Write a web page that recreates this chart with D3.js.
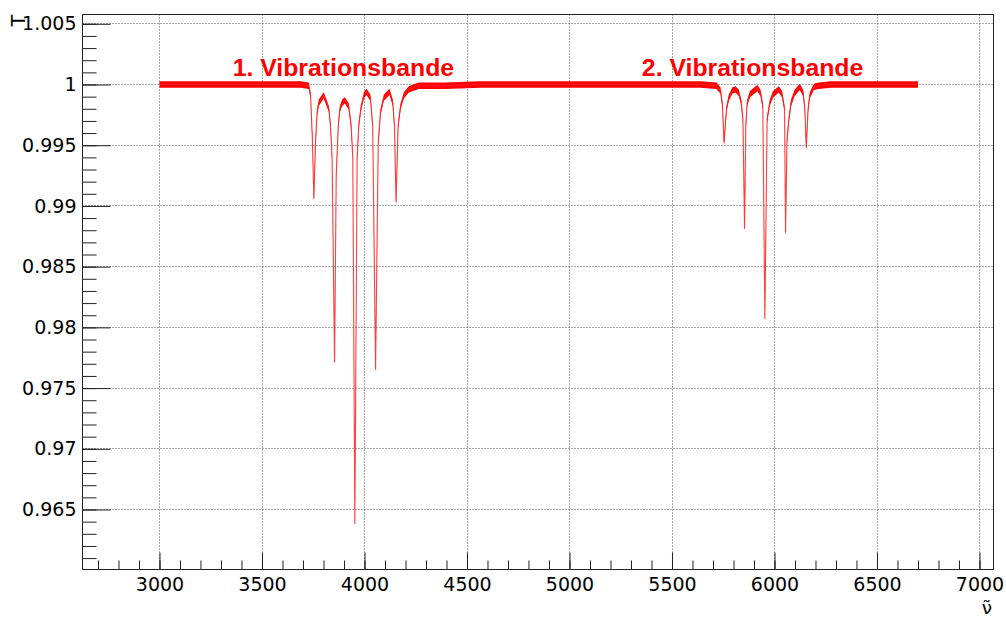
<!DOCTYPE html>
<html>
<head>
<meta charset="utf-8">
<script src="https://cdn.jsdelivr.net/npm/d3@7"></script>
<style>
  body { margin: 0; background: #fff; }
</style>
</head>
<body>
<div id="chart"></div>
<script>
// ------------------------------------------------------
// Spectrum (wavenumber vs transmission)
const wavenumber = [3000, 3300, 3600, 3688, 3728, 3737, 3746, 3753, 3761, 3769, 3777, 3801,
	3826, 3834, 3842, 3854, 3862, 3872, 3880, 3891, 3904, 3923, 3935, 3943, 3953, 3964,
	3972, 3982, 3997, 4010, 4029, 4040, 4054, 4067, 4078, 4094, 4122, 4138, 4146, 4154,
	4164, 4176, 4192, 4216, 4265, 4395, 4566, 5000, 5400, 5639, 5717, 5737, 5746, 5754,
	5766, 5777, 5794, 5810, 5826, 5838, 5846, 5854, 5860, 5867, 5880, 5916, 5932, 5943,
	5953, 5964, 5977, 5993, 6021, 6037, 6049, 6054, 6061, 6070, 6081, 6098, 6123, 6140,
	6148, 6155, 6164, 6172, 6192, 6216, 6273, 6500, 6700]

const transmission = [1.0000, 1.0000, 1.0000, 1.0000, 0.9999, 0.9991, 0.9954, 0.9906, 0.9952, 0.9977, 0.9985, 0.9991,
	0.9980, 0.9966, 0.9939, 0.9771, 0.9925, 0.9966, 0.9980, 0.9985, 0.9987, 0.9982, 0.9966, 0.9939, 0.9638, 0.9939,
	0.9966, 0.9980, 0.9991, 0.9994, 0.9989, 0.9966, 0.9765, 0.9952, 0.9977, 0.9989, 0.9994, 0.9985, 0.9966, 0.9903,
	0.9966, 0.9982, 0.9991, 0.9996, 0.9999, 0.9999, 1.0000, 1.0000, 1.0000, 1.0000, 0.9999, 0.9995, 0.9983, 0.9952,
	0.9980, 0.9989, 0.9995, 0.9996, 0.9993, 0.9985, 0.9971, 0.9881, 0.9966, 0.9985, 0.9992, 0.9997, 0.9993, 0.9982,
	0.9807, 0.9971, 0.9985, 0.9992, 0.9996, 0.9992, 0.9980, 0.9878, 0.9954, 0.9971, 0.9985, 0.9993, 0.9998, 0.9993,
	0.9980, 0.9948, 0.9980, 0.9991, 0.9998, 0.9999, 1.0000, 1.0000, 1.0000]

// scatter of the measured points around the curve (half width)
const noise = 0.00026

// band labels
const bandNames = ['1. Vibrationsbande', '2. Vibrationsbande']
const bandNu = [3897, 5893]
const bandT = [1.0007, 1.0007]

// axis ticks
const xMajorTicks = [3000, 3500, 4000, 4500, 5000, 5500, 6000, 6500, 7000]
const yMajorTicks = [0.965, 0.97, 0.975, 0.98, 0.985, 0.99, 0.995, 1, 1.005]

// ------------------------------------------------------
// Size of the picture and the frame
const width = 1006
const height = 618
const frame = { left: 82.5, right: 993.5, top: 14.5, bottom: 569.5 }

const x = d3.scaleLinear()
	.domain([2624.4, 7068.3])
	.range([frame.left, frame.right])

const y = d3.scaleLinear()
	.domain([0.96006, 1.005765])
	.range([frame.bottom, frame.top])

const svg = d3.select('#chart')
	.append('svg')
	.attr('width', width)
	.attr('height', height)
	.style('font-family', '"DejaVu Sans", sans-serif')

svg.append('rect')
	.attr('width', width)
	.attr('height', height)
	.attr('fill', '#fff')

// ------------------------------------------------------
// Grid (dotted, at the major ticks)
const grid = svg.append('g')

grid.selectAll('.gx')
	.data(xMajorTicks)
	.enter()
	.append('line')
	.attr('x1', d => Math.round(x(d)) + 0.5)
	.attr('x2', d => Math.round(x(d)) + 0.5)
	.attr('y1', frame.top)
	.attr('y2', frame.bottom)

grid.selectAll('.gy')
	.data(yMajorTicks)
	.enter()
	.append('line')
	.attr('x1', frame.left)
	.attr('x2', frame.right)
	.attr('y1', d => Math.round(y(d) - 0.5) + 0.5)
	.attr('y2', d => Math.round(y(d) - 0.5) + 0.5)

grid.selectAll('line')
	.attr('stroke', '#555')
	.attr('stroke-width', 1)
	.attr('stroke-dasharray', '1,2')

// ------------------------------------------------------
// Spectrum: noise band plus the thin curve through it
const points = wavenumber.map((nu, i) => [nu, transmission[i]])

const band = d3.area()
	.x(d => x(d[0]))
	.y0(d => y(d[1] - noise))
	.y1(d => y(d[1] + noise))

const curve = d3.line()
	.x(d => x(d[0]))
	.y(d => y(d[1]))

svg.append('path')
	.datum(points)
	.attr('d', band)
	.attr('fill', '#ff0000')

svg.append('path')
	.datum(points)
	.attr('d', curve)
	.attr('fill', 'none')
	.attr('stroke', '#ff2020')
	.attr('stroke-opacity', 0.85)
	.attr('stroke-width', 1.1)

// band labels
svg.selectAll('.band-label')
	.data(bandNames)
	.enter()
	.append('text')
	.attr('x', (d, i) => x(bandNu[i]))
	.attr('y', (d, i) => y(bandT[i]))
	.attr('text-anchor', 'middle')
	.attr('fill', '#ff0000')
	.style('font-family', '"Liberation Sans", Arial, sans-serif')
	.style('font-weight', 'bold')
	.style('font-size', '24.8px')
	.text(d => d)

// ------------------------------------------------------
// Axes (ticks point into the frame, ROOT style)
svg.append('g')
	.attr('transform', `translate(0, ${frame.bottom})`)
	.call(d3.axisBottom(x)
		.tickValues(xMajorTicks)
		.tickSizeInner(-17)
		.tickSizeOuter(0)
		.tickPadding(8)
		.tickFormat(d3.format('d')))

svg.append('g')
	.attr('transform', `translate(0, ${frame.bottom})`)
	.call(d3.axisBottom(x)
		.tickValues(d3.range(2700, 7001, 100))
		.tickSizeInner(-9)
		.tickSizeOuter(0)
		.tickFormat(''))

svg.append('g')
	.attr('transform', `translate(${frame.left}, 0)`)
	.call(d3.axisLeft(y)
		.tickValues(yMajorTicks)
		.tickSizeInner(-28)
		.tickSizeOuter(0)
		.tickPadding(6)
		.tickFormat(d => String(+d.toFixed(3))))

svg.append('g')
	.attr('transform', `translate(${frame.left}, 0)`)
	.call(d3.axisLeft(y)
		.tickValues(d3.range(0.961, 1.0055, 0.001))
		.tickSizeInner(-14)
		.tickSizeOuter(0)
		.tickFormat(''))

svg.selectAll('.domain').remove()
svg.selectAll('.tick line').attr('stroke', '#222')
svg.selectAll('.tick text')
	.attr('fill', '#000')
	.style('font-family', '"DejaVu Sans", sans-serif')
	.style('font-size', '19px')

// frame
svg.append('rect')
	.attr('x', frame.left)
	.attr('y', frame.top)
	.attr('width', frame.right - frame.left)
	.attr('height', frame.bottom - frame.top)
	.attr('fill', 'none')
	.attr('stroke', '#222')

// ------------------------------------------------------
// Axis titles
svg.append('text')
	.attr('transform', `translate(25, 15) rotate(-90)`)
	.attr('text-anchor', 'end')
	.style('font-size', '19px')
	.text('T')

// nu with a combining tilde on top
svg.append('text')
	.attr('x', 987)
	.attr('y', 613.5)
	.attr('text-anchor', 'middle')
	.style('font-size', '18.5px')
	.text('\u03BD\u0303')
</script>
</body>
</html>
